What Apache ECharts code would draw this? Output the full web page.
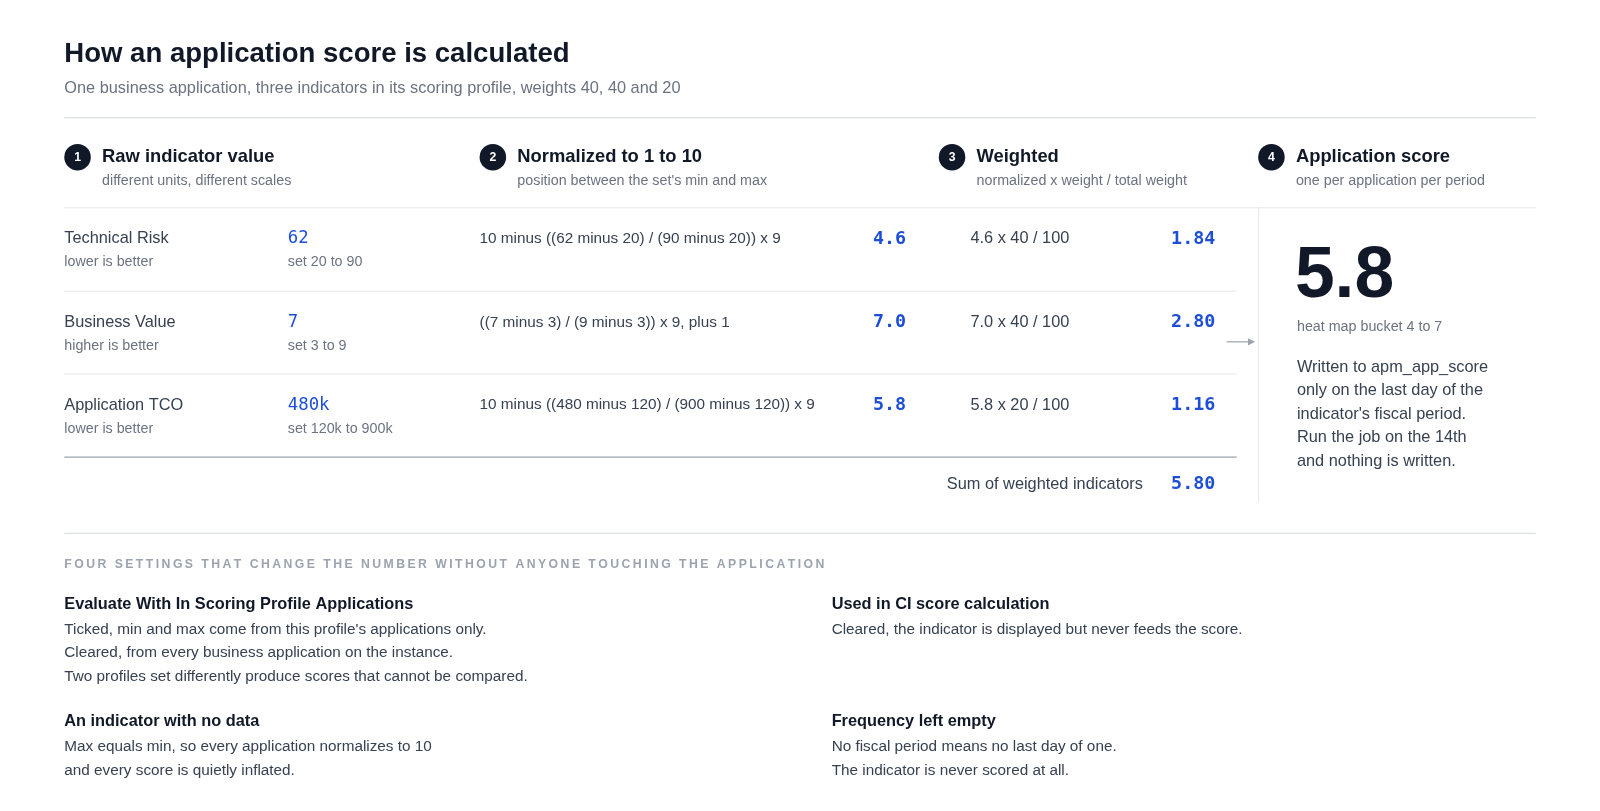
<!DOCTYPE html>
<html><head><meta charset="utf-8">
<script src="https://cdn.jsdelivr.net/npm/echarts@6/dist/echarts.min.js"></script>
<style>html,body{margin:0;padding:0;background:#fff}#c{width:1600px;height:811px}</style>
</head><body><div id="c"></div>
<script>
const title = "How an application score is calculated";
const subtitle = "One business application, three indicators in its scoring profile, weights 40, 40 and 20";
const steps = ["Raw indicator value","Normalized to 1 to 10","Weighted","Application score"];
const stepSubs = ["different units, different scales","position between the set's min and max","normalized x weight / total weight","one per application per period"];
const indicators = ["Technical Risk","Business Value","Application TCO"];
const directions = ["lower is better","higher is better","lower is better"];
const rawValues = ["62","7","480k"];
const sets = ["set 20 to 90","set 3 to 9","set 120k to 900k"];
const formulas = ["10 minus ((62 minus 20) / (90 minus 20)) x 9","((7 minus 3) / (9 minus 3)) x 9, plus 1","10 minus ((480 minus 120) / (900 minus 120)) x 9"];
const normalized = [4.6, 7.0, 5.8];
const weights = [40, 40, 20];
const totalWeight = 100;
const weighted = [1.84, 2.80, 1.16];
const sumWeighted = 5.80;
const appScore = "5.8";
const bucket = "heat map bucket 4 to 7";
const scoreNote = ["Written to apm_app_score","only on the last day of the","indicator's fiscal period.","Run the job on the 14th","and nothing is written."];
const settingsHeading = "FOUR SETTINGS THAT CHANGE THE NUMBER WITHOUT ANYONE TOUCHING THE APPLICATION";
const settingTitles = ["Evaluate With In Scoring Profile Applications","Used in CI score calculation","An indicator with no data","Frequency left empty"];
const settingLines = [
 ["Ticked, min and max come from this profile's applications only.","Cleared, from every business application on the instance.","Two profiles set differently produce scores that cannot be compared."],
 ["Cleared, the indicator is displayed but never feeds the score."],
 ["Max equals min, so every application normalizes to 10","and every score is quietly inflated."],
 ["No fiscal period means no last day of one.","The indicator is never scored at all."]
];

const F = '"Liberation Sans", Arial, Helvetica, sans-serif';
const M = '"DejaVu Sans Mono", monospace';
const DARK = '#111827', GRAY = '#6b7280', BODY = '#374151', BLUE = '#1d4ed8';
const els = [];
function t(x, y, text, o) {
  o = o || {};
  els.push({type:'text', x, y, style:{text, fill:o.fill||BODY, font:(o.weight||'normal')+' '+(o.size||15)+'px '+(o.family||F), textAlign:o.align||'left', textVerticalAlign:'middle'}});
}
function line(x1,y1,x2,y2,c,w){els.push({type:'line',shape:{x1,y1,x2,y2},style:{stroke:c,lineWidth:w||1}});}

t(63,53,title,{size:27,weight:'bold',fill:DARK});
t(63,87,subtitle,{size:16,fill:GRAY});
line(63,115.5,1505,115.5,'#d1d5db');
const sx=[76,483,933,1246];
steps.forEach((s,i)=>{
  els.push({type:'circle',shape:{cx:sx[i],cy:154,r:13},style:{fill:DARK}});
  t(sx[i],154,String(i+1),{size:12,weight:'bold',fill:'#fff',align:'center'});
  t(sx[i]+24,154,s,{size:18,weight:'bold',fill:DARK});
  t(sx[i]+24,177,stepSubs[i],{size:14,fill:GRAY});
});
line(63,203.5,1505,203.5,'#e5e7eb');
const ry=[234,316,397];
indicators.forEach((n,i)=>{
  t(63,ry[i],n,{size:16,fill:BODY});
  t(63,ry[i]+23,directions[i],{size:14,fill:GRAY});
  t(282,ry[i],rawValues[i],{size:17,fill:BLUE,family:M});
  t(282,ry[i]+23,sets[i],{size:14,fill:GRAY});
  t(470,ry[i],formulas[i],{size:15,fill:BODY});
  t(888,ry[i],normalized[i].toFixed(1),{size:18,weight:'bold',fill:BLUE,family:M,align:'right'});
  t(951,ry[i],normalized[i].toFixed(1)+' x '+weights[i]+' / '+totalWeight,{size:16,fill:BODY});
  t(1191,ry[i],weighted[i].toFixed(2),{size:18,weight:'bold',fill:BLUE,family:M,align:'right'});
});
line(63,285.5,1212,285.5,'#e5e7eb');
line(63,366.5,1212,366.5,'#e5e7eb');
line(63,448,1212,448,'#9ca3af',1.2);
t(1120,475,'Sum of weighted indicators',{size:16,fill:BODY,align:'right'});
t(1191,475,sumWeighted.toFixed(2),{size:18,weight:'bold',fill:BLUE,family:M,align:'right'});
line(1233.5,203,1233.5,492,'#e5e7eb');
line(1202,335,1226,335,'#9ca3af',1.2);
els.push({type:'polygon',shape:{points:[[1230,335],[1223,331.5],[1223,338.5]]},style:{fill:'#9ca3af'}});
t(1269,272,appScore,{size:70,weight:'bold',fill:DARK});
t(1271,321,bucket,{size:14,fill:GRAY});
scoreNote.forEach((s,i)=>t(1271,360+i*23,s,{size:16,fill:BODY}));
line(63,522.5,1505,522.5,'#d1d5db');
els.push({type:'text',x:63,y:553,style:{text:settingsHeading.split('').join('\u2009'),fill:'#9ca3af',font:'bold 12px '+F,textVerticalAlign:'middle'}});
const stx=[63,815,63,815], sty=[592,592,707,707];
settingTitles.forEach((s,i)=>{
  t(stx[i],sty[i],s,{size:16,weight:'bold',fill:DARK});
  settingLines[i].forEach((l,j)=>t(stx[i],sty[i]+25+j*23,l,{size:15,fill:BODY}));
});

const S = 1600/1568;
const chart = echarts.init(document.getElementById('c'));
chart.setOption({backgroundColor:'#fff',graphic:{elements:[{type:'group',scaleX:S,scaleY:S,children:els}]}});
</script></body></html>
